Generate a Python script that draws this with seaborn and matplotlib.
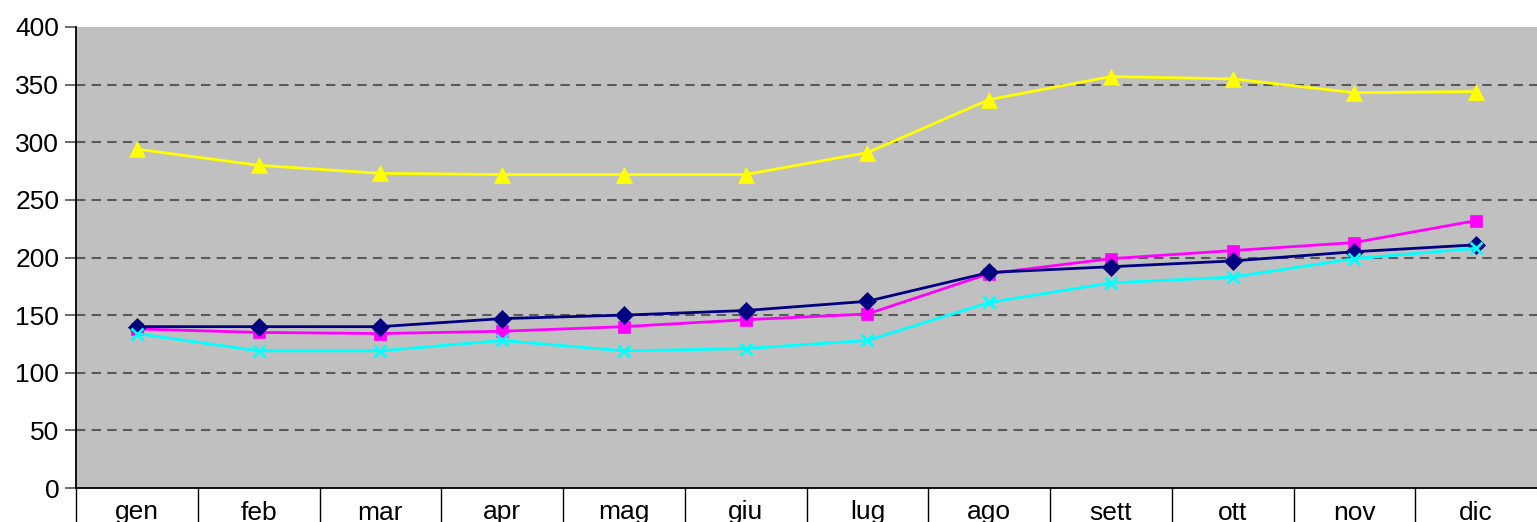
import numpy as np
import pandas as pd
import matplotlib
matplotlib.use("Agg")
import matplotlib.pyplot as plt
import seaborn as sns
from matplotlib.ticker import FixedLocator

# ---- data ----
months = ["gen", "feb", "mar", "apr", "mag", "giu", "lug", "ago", "sett", "ott", "nov", "dic"]
navy_vals = [140, 140, 140, 147, 150, 154, 162, 187, 192, 197, 205, 211]
magenta_vals = [138, 135, 134, 136, 140, 146, 151, 186, 199, 206, 213, 232]
yellow_vals = [294, 280, 273, 272, 272, 272, 291, 337, 357, 355, 343, 344]
cyan_vals = [134, 119, 119, 128, 119, 121, 128, 161, 178, 183, 199, 208]

# drawing order: magenta under navy, cyan on top
series = [
    ("magenta", magenta_vals, "#FF00FF", "s", 9),
    ("navy", navy_vals, "#000080", "D", 9.5),
    ("yellow", yellow_vals, "#FFFF00", "^", 11),
    ("cyan", cyan_vals, "#00FFFF", "x", 9),
]

sns.set_style("white")
plt.rcParams["font.family"] = ["Liberation Sans", "DejaVu Sans"]

fig = plt.figure(figsize=(15.37, 5.22), dpi=100)
ax = fig.add_axes([76 / 1537, 34 / 522, 1461 / 1537, 461 / 522])
ax.set_facecolor("#C0C0C0")

x = np.arange(len(months))
for name, vals, col, mk, ms in series:
    df = pd.DataFrame({"x": x, "y": vals})
    sns.lineplot(data=df, x="x", y="y", ax=ax, color=col, marker=mk,
                 markersize=ms, markeredgecolor=col, markeredgewidth=2 if mk == "x" else 0.5,
                 linewidth=2, legend=False)

ax.set_xlim(-0.5, len(months) - 0.5)
ax.set_ylim(0, 400)
ax.set_yticks(np.arange(0, 401, 50))
ax.set_xticks(x)
ax.set_xticklabels(months)
# category boundaries (no line at the right edge)
ax.xaxis.set_minor_locator(FixedLocator(np.arange(-0.5, len(months) - 1, 1.0)))
ax.tick_params(axis="x", which="major", bottom=True, length=0, labelsize=19,
               labelcolor="black", pad=9)
ax.tick_params(axis="x", which="minor", bottom=True, length=34, width=1,
               color="black", direction="out")
ax.tick_params(axis="y", left=True, length=8, width=1.3, color="#606060",
               labelsize=19, labelcolor="black", pad=4)
ax.set_xlabel("")
ax.set_ylabel("")

# dashed horizontal gridlines (not at the top edge)
for yv in np.arange(50, 400, 50):
    ax.axhline(yv, color="#5a5a5a", linestyle=(0, (4.5, 3)), linewidth=1.5, zorder=0.5)

for side in ["top", "right"]:
    ax.spines[side].set_visible(False)
ax.spines["left"].set_color("black")
ax.spines["left"].set_linewidth(1.3)
ax.spines["bottom"].set_color("black")
ax.spines["bottom"].set_linewidth(1.3)

fig.savefig("out.png", dpi=100)
